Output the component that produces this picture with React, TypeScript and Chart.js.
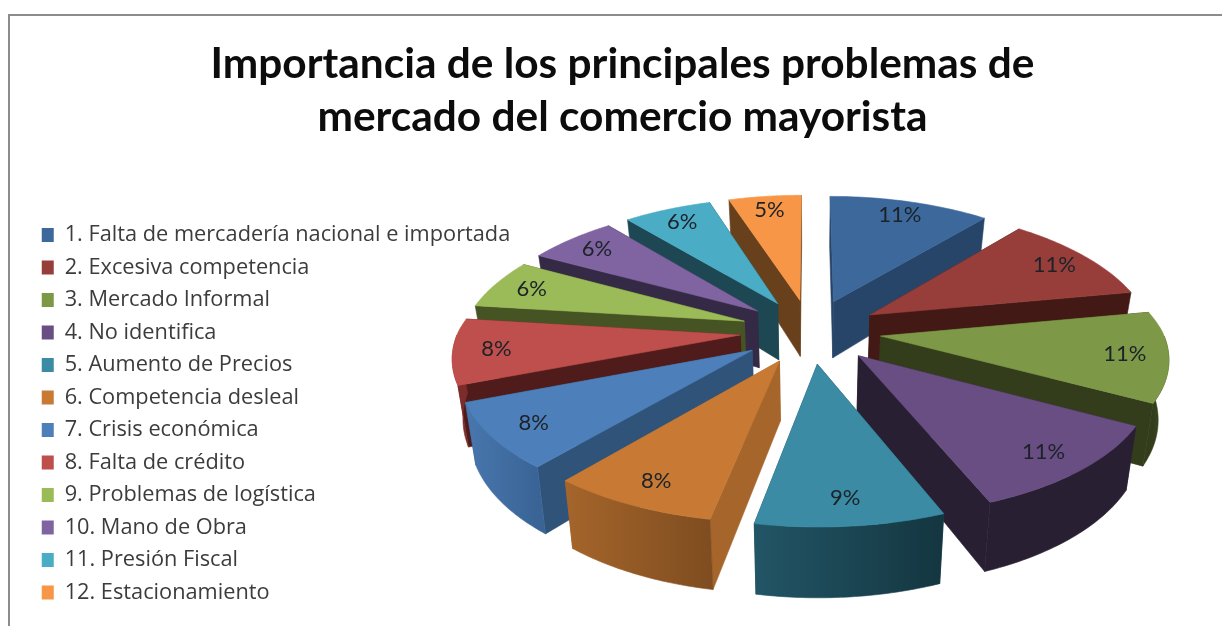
import React, { useEffect, useRef } from "react";
import { Chart, registerables } from "chart.js";

Chart.register(...registerables);

const categories = [
  "1. Falta de mercadería nacional e importada",
  "2. Excesiva competencia",
  "3. Mercado Informal",
  "4. No identifica",
  "5. Aumento de Precios",
  "6. Competencia desleal",
  "7. Crisis económica",
  "8. Falta de crédito",
  "9. Problemas de logística",
  "10. Mano de Obra",
  "11. Presión Fiscal",
  "12. Estacionamiento",
];
const percentages = [11, 11, 11, 11, 9, 8, 8, 8, 6, 6, 6, 5];
const titleLines = [
  "Importancia de los principales problemas de",
  "mercado del comercio mayorista",
];
const topColors = ["#3c689c", "#973e3a", "#7d9947", "#694e83", "#3a8ba3", "#c87a35", "#4d7fba", "#bf4f4c", "#9bbb59", "#8064a2", "#4bacc6", "#f79646"];
const radialWallColors = ["#274568", "#431915", "#333d1b", "#291f33", "#1f5161", "#a5652b", "#2f5379", "#4f1c1b", "#465423", "#352a46", "#1d4853", "#68401b"];
const outerWallLeft = ["#274568", "#431915", "#333d1b", "#291f33", "#225566", "#a5652b", "#4877ae", "#a34240", "#5c7230", "#4c3b63", "#2a6b7c", "#a5652b"];
const outerWallRight = ["#274568", "#431915", "#3f4f22", "#291f33", "#143640", "#7f4d20", "#3a6496", "#7c2c2a", "#5c7230", "#4c3b63", "#2a6b7c", "#a5652b"];

// Tilted, exploded 3-D view of the pie plane
const view = { cx: 810.5, cy: 331, a: 282, b: 128.5, p: 0.145, pBackX: 0.17, explode: 0.25, depth: 58, label: 0.85, lowShrink: 0.97 };

function project(X: number, Y: number, low: boolean) {
  const w = 1 - view.p * Y;
  const wx = Y < 0 ? 1 - view.pBackX * Y : w;
  return {
    x: view.cx + ((low ? view.lowShrink : 1) * view.a * X) / wx,
    y: view.cy + (view.b * Y) / w + (low ? view.depth / w : 0),
  };
}

const pie3d = {
  id: "pie3d",
  beforeDatasetDraw(chart: any, args: any) {
    const ctx = chart.ctx;
    const arcs: any[] = chart.getDatasetMeta(args.index).data;
    const order = arcs
      .map((el, i) => ({ i, start: el.startAngle, end: el.endAngle, mid: (el.startAngle + el.endAngle) / 2 }))
      .sort((m, n) => Math.sin(m.mid) - Math.sin(n.mid));

    const fillPoly = (pts: { x: number; y: number }[], fill: any) => {
      ctx.beginPath();
      pts.forEach((q, k) => (k ? ctx.lineTo(q.x, q.y) : ctx.moveTo(q.x, q.y)));
      ctx.closePath();
      ctx.fillStyle = fill;
      ctx.fill();
      ctx.strokeStyle = fill;
      ctx.lineWidth = 0.6;
      ctx.stroke();
    };

    ctx.save();
    for (const s of order) {
      const ox = Math.cos(s.mid) * view.explode;
      const oy = Math.sin(s.mid) * view.explode;
      const at = (ang: number, r: number, low: boolean) =>
        project(ox + Math.cos(ang) * r, oy + Math.sin(ang) * r, low);
      const steps = 40;
      const angles: number[] = [];
      for (let k = 0; k <= steps; k++) angles.push(s.start + ((s.end - s.start) * k) / steps);

      // radial cut faces
      for (const ang of [s.start, s.end]) {
        fillPoly([at(0, 0, false), at(ang, 1, false), at(ang, 1, true), at(0, 0, true)], radialWallColors[s.i]);
      }
      // outer rim, only where it faces the viewer
      const front = angles.filter((ang) => Math.sin(ang) > 0);
      if (front.length > 1) {
        const upper = front.map((ang) => at(ang, 1, false));
        const lower = front.map((ang) => at(ang, 1, true));
        const xs = upper.map((q) => q.x);
        const g = ctx.createLinearGradient(Math.min(...xs), 0, Math.max(...xs), 0);
        g.addColorStop(0, outerWallLeft[s.i]);
        g.addColorStop(1, outerWallRight[s.i]);
        fillPoly([...upper, ...lower.reverse()], g);
      }
      // top face
      fillPoly([at(0, 0, false), ...angles.map((ang) => at(ang, 1, false))], topColors[s.i]);
    }
    // percentage labels
    ctx.fillStyle = "#1c2228";
    ctx.font = "22px Lato";
    ctx.textAlign = "center";
    ctx.textBaseline = "middle";
    arcs.forEach((el, i) => {
      const mid = (el.startAngle + el.endAngle) / 2;
      const q = project(
        Math.cos(mid) * (view.explode + view.label),
        Math.sin(mid) * (view.explode + view.label),
        false
      );
      ctx.fillText(`${percentages[i]}%`, q.x, q.y);
    });
    ctx.restore();
    return false;
  },
};

export default function App() {
  const ref = useRef<HTMLCanvasElement>(null);
  useEffect(() => {
    const chart = new Chart(ref.current as HTMLCanvasElement, {
      type: "pie",
      data: {
        labels: categories,
        datasets: [{ data: percentages, backgroundColor: topColors, borderWidth: 0 }],
      },
      options: {
        responsive: false,
        animation: false,
        layout: { padding: { left: 31, right: 8, top: 38, bottom: 12 } },
        plugins: {
          tooltip: { enabled: false },
          title: {
            display: true,
            text: titleLines,
            color: "#0c0c0c",
            font: { family: "Lato", weight: "bold", size: 42.4, lineHeight: 1.255 },
            padding: { top: 0, bottom: 40 },
          },
          legend: {
            position: "left",
            align: "end",
            labels: {
              color: "#3c3c3c",
              font: { family: "'Open Sans'", size: 21.75 },
              boxWidth: 12,
              boxHeight: 14,
              padding: 10.75,
            },
          },
        },
      } as any,
      plugins: [pie3d],
    });
    return () => chart.destroy();
  }, []);
  return (
    <div style={{ position: "absolute", left: 0, top: 0, width: 1222, height: 626, overflow: "hidden", background: "#fff" }}>
      <div style={{ position: "absolute", left: 8, top: 14, right: 0, bottom: 0, borderTop: "2px solid #8c8c8c", borderLeft: "2px solid #8c8c8c" }} />
      <canvas ref={ref} width={1222} height={626} style={{ position: "absolute", left: 0, top: 0, filter: "blur(0.5px)" }} />
    </div>
  );
}
